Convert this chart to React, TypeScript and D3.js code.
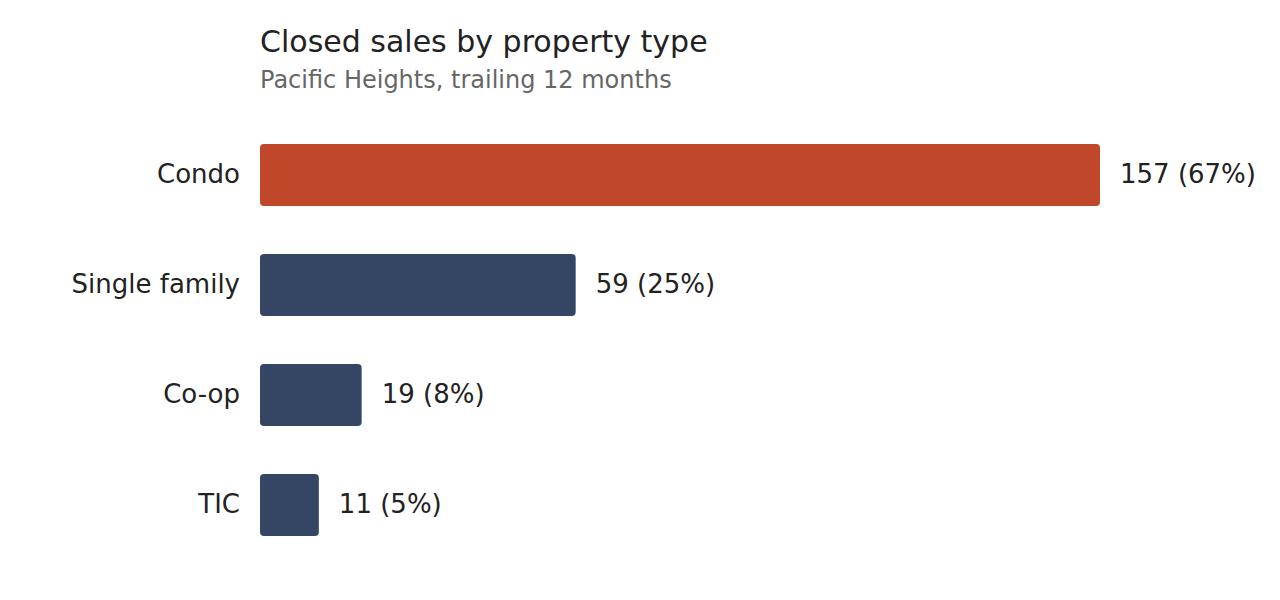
import React, { useEffect, useRef } from 'react';
import * as d3 from 'd3';

const categories = ['Condo', 'Single family', 'Co-op', 'TIC'];
const sales = [157, 59, 19, 11];
const shares = [67, 25, 8, 5];

const App = () => {
  const svgRef = useRef<SVGSVGElement>(null);

  useEffect(() => {
    const width = 1280;
    const height = 600;
    const margin = { top: 120, right: 180, bottom: 10, left: 260 };

    const svg = d3.select(svgRef.current);
    svg.selectAll('*').remove();
    svg.attr('width', width).attr('height', height);

    const font = 'DejaVu Sans, sans-serif';

    svg.append('text')
      .attr('x', margin.left)
      .attr('y', 52)
      .attr('font-family', font)
      .attr('font-size', 30)
      .attr('fill', '#222')
      .text('Closed sales by property type');

    svg.append('text')
      .attr('x', margin.left)
      .attr('y', 88)
      .attr('font-family', font)
      .attr('font-size', 24)
      .attr('fill', '#666')
      .text('Pacific Heights, trailing 12 months');

    const x = d3.scaleLinear()
      .domain([0, d3.max(sales)!])
      .range([margin.left, 1100]);

    const y = d3.scaleBand()
      .domain(categories)
      .range([120, 560])
      .paddingInner(0.4364)
      .paddingOuter(0.218);

    const rows = categories.map((c, i) => ({ cat: c, value: sales[i], share: shares[i] }));

    const g = svg.append('g');

    g.selectAll('rect')
      .data(rows)
      .enter()
      .append('rect')
      .attr('x', x(0))
      .attr('y', d => y(d.cat)!)
      .attr('width', d => x(d.value) - x(0))
      .attr('height', y.bandwidth())
      .attr('rx', 4)
      .attr('fill', (d, i) => (i === 0 ? '#c0472a' : '#354664'));

    g.selectAll('.cat')
      .data(rows)
      .enter()
      .append('text')
      .attr('class', 'cat')
      .attr('x', x(0) - 20)
      .attr('y', d => y(d.cat)! + y.bandwidth() / 2)
      .attr('dy', '0.32em')
      .attr('text-anchor', 'end')
      .attr('font-family', font)
      .attr('font-size', 26)
      .attr('fill', '#222')
      .text(d => d.cat);

    g.selectAll('.val')
      .data(rows)
      .enter()
      .append('text')
      .attr('class', 'val')
      .attr('x', d => x(d.value) + 20)
      .attr('y', d => y(d.cat)! + y.bandwidth() / 2)
      .attr('dy', '0.32em')
      .attr('font-family', font)
      .attr('font-size', 26)
      .attr('fill', '#222')
      .text(d => `${d.value} (${d.share}%)`);
  }, []);

  return (
    <svg
      ref={svgRef}
      style={{ position: 'absolute', left: 0, top: 0, background: '#fff' }}
    />
  );
};

export default App;
